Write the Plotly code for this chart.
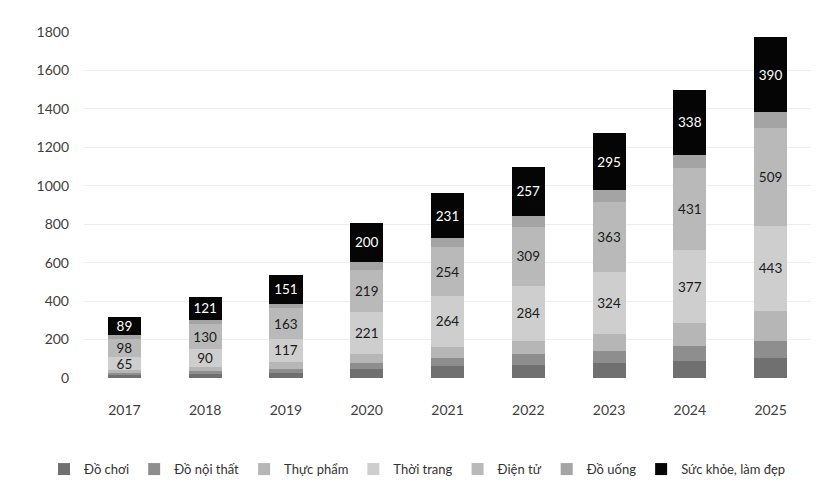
import plotly.graph_objects as go

years = ["2017", "2018", "2019", "2020", "2021", "2022", "2023", "2024", "2025"]

do_choi = [15, 20, 25, 45, 60, 70, 80, 90, 105]
do_noi_that = [12, 16, 20, 33, 45, 55, 62, 75, 85]
thuc_pham = [15, 23, 40, 45, 57, 70, 85, 122, 160]
thoi_trang = [65, 90, 117, 221, 264, 284, 324, 377, 443]
dien_tu = [98, 130, 163, 219, 254, 309, 363, 431, 509]
do_uong = [21, 24, 20, 42, 49, 54, 63, 66, 80]
suc_khoe = [89, 121, 151, 200, 231, 257, 295, 338, 390]

series = [
    ("Đồ chơi", do_choi, "#707070", False, None),
    ("Đồ nội thất", do_noi_that, "#8e8e8e", False, None),
    ("Thực phẩm", thuc_pham, "#b6b6b6", False, None),
    ("Thời trang", thoi_trang, "#cecece", True, "#1a1a1a"),
    ("Điện tử", dien_tu, "#b9b9b9", True, "#1a1a1a"),
    ("Đồ uống", do_uong, "#a4a4a4", False, None),
    ("Sức khỏe, làm đẹp", suc_khoe, "#050505", True, "#ffffff"),
]

FONT = "Lato, 'Open Sans', sans-serif"

fig = go.Figure()
for name, vals, color, labeled, txtcolor in series:
    fig.add_trace(go.Bar(
        name=name,
        x=years,
        y=vals,
        marker=dict(color=color, line=dict(width=0)),
        text=[str(v) for v in vals] if labeled else None,
        textposition="inside" if labeled else "none",
        insidetextanchor="middle",
        textangle=0,
        constraintext="none",
        textfont=dict(family=FONT, size=13.5, color=txtcolor if txtcolor else "#000"),
        hoverinfo="x+y+name",
    ))

fig.update_layout(
    barmode="stack",
    bargap=0.59,
    width=823,
    height=495,
    margin=dict(l=84, r=12, t=32, b=117, autoexpand=False),
    paper_bgcolor="white",
    plot_bgcolor="white",
    font=dict(family=FONT, size=14, color="#404040"),
    showlegend=True,
    legend=dict(
        orientation="h",
        x=-0.055,
        xanchor="left",
        y=-0.22,
        yanchor="top",
        font=dict(family=FONT, size=13, color="#333333"),
        itemwidth=30,
        tracegroupgap=0,
        traceorder="normal",
    ),
    xaxis=dict(
        showgrid=False,
        showline=False,
        ticks="",
        ticklabelstandoff=22,
        tickfont=dict(family=FONT, size=14, color="#404040"),
    ),
    yaxis=dict(
        range=[0, 1800],
        dtick=200,
        showgrid=True,
        gridcolor="#ededed",
        gridwidth=1,
        zeroline=False,
        showline=False,
        ticks="",
        ticklabelstandoff=14,
        tickfont=dict(family=FONT, size=14, color="#404040"),
    ),
)

fig.write_html("out.html")
